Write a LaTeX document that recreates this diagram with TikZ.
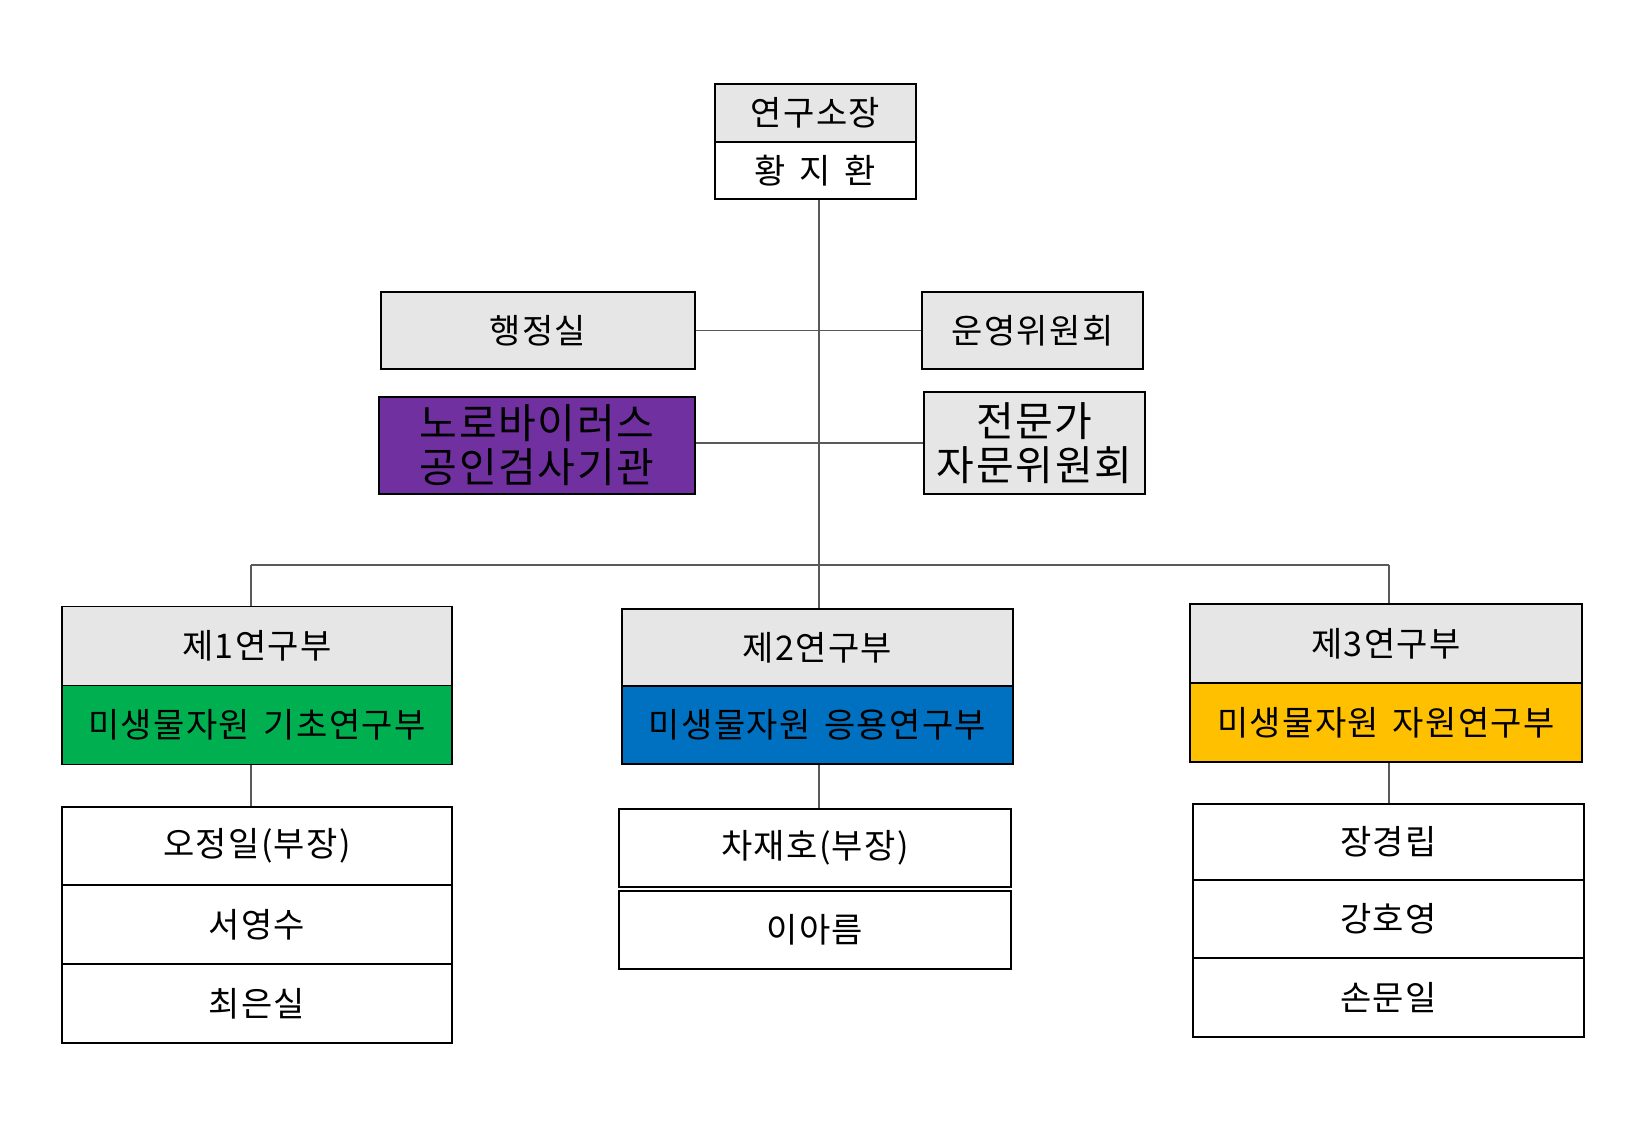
\documentclass[tikz,border=0pt]{standalone}
\usepackage{fontspec}
\setmainfont[LetterSpace=4]{Noto Sans CJK KR}
\definecolor{boxgray}{HTML}{E7E6E6}
\definecolor{cgreen}{HTML}{00B050}
\definecolor{cblue}{HTML}{0070C0}
\definecolor{cgold}{HTML}{FFC000}
\definecolor{cpurple}{HTML}{7030A0}
\definecolor{linegray}{HTML}{595959}
\newcommand{\gap}{\hspace{0.4em}}
\tikzset{
  box/.style={draw=black, line width=1.6pt, inner sep=0pt, align=center,
    font=\fontsize{34}{40}\selectfont},
  bigbox/.style={box, font=\fontsize{41}{44}\selectfont},
  conn/.style={draw=linegray, line width=1.1pt},
}
\begin{document}
\begin{tikzpicture}[x=1pt,y=-1pt]
\useasboundingbox (0,0) rectangle (1646,1125);
% top
\node[box, fill=boxgray, minimum width=201pt, minimum height=58pt] (top1) at (815.5,113) {연구소장};
\node[box, fill=white, minimum width=201pt, minimum height=57pt] (top2) at (815.5,170.5) {황\gap 지\gap 환};
% side boxes
\node[box, fill=boxgray, minimum width=314pt, minimum height=77pt] (admin) at (538,330.5) {행정실};
\node[box, fill=boxgray, minimum width=221pt, minimum height=77pt] (comm) at (1032.5,330.5) {운영위원회};
\node[bigbox, fill=cpurple, minimum width=316pt, minimum height=97pt] (noro) at (537,445.5) {노로바이러스\\공인검사기관};
\node[bigbox, fill=boxgray, minimum width=221pt, minimum height=102pt] (expert) at (1034.5,443) {전문가\\자문위원회};
% divisions
\node[box, fill=boxgray, minimum width=390pt, minimum height=79pt] (d1h) at (257,646) {제1연구부};
\node[box, fill=cgreen, minimum width=390pt, minimum height=79pt] (d1c) at (257,725) {미생물자원\gap 기초연구부};
\node[box, fill=boxgray, minimum width=391pt, minimum height=77pt] (d2h) at (817.5,647.5) {제2연구부};
\node[box, fill=cblue, minimum width=391pt, minimum height=78pt] (d2c) at (817.5,725) {미생물자원\gap 응용연구부};
\node[box, fill=boxgray, minimum width=392pt, minimum height=79pt] (d3h) at (1386,643.5) {제3연구부};
\node[box, fill=cgold, minimum width=392pt, minimum height=79pt] (d3c) at (1386,722.5) {미생물자원\gap 자원연구부};
% members
\node[box, fill=white, minimum width=390pt, minimum height=78pt] (m11) at (257,846) {오정일(부장)};
\node[box, fill=white, minimum width=390pt, minimum height=79pt] (m12) at (257,924.5) {서영수};
\node[box, fill=white, minimum width=390pt, minimum height=79pt] (m13) at (257,1003.5) {최은실};
\node[box, fill=white, minimum width=392pt, minimum height=78pt] (m21) at (815,848) {차재호(부장)};
\node[box, fill=white, minimum width=392pt, minimum height=78pt] (m22) at (815,930) {이아름};
\node[box, fill=white, minimum width=391pt, minimum height=76pt] (m31) at (1388.5,842) {장경립};
\node[box, fill=white, minimum width=391pt, minimum height=78pt] (m32) at (1388.5,919) {강호영};
\node[box, fill=white, minimum width=391pt, minimum height=79pt] (m33) at (1388.5,997.5) {손문일};
% connectors
\coordinate (spine) at (819,565);
\coordinate (b1) at (251,565);
\coordinate (b3) at (1389,565);
\draw[conn] (top2.south -| spine) -- (spine |- d2h.north);
\draw[conn] (admin.east) -- (comm.west);
\draw[conn] (noro.east |- expert.west) -- (expert.west);
\draw[conn] (b1) -- (b3);
\draw[conn] (b1) -- (b1 |- d1h.north);
\draw[conn] (b3) -- (b3 |- d3h.north);
\draw[conn] (d1c.south -| b1) -- (m11.north -| b1);
\draw[conn] (d2c.south -| spine) -- (m21.north -| spine);
\draw[conn] (d3c.south -| b3) -- (m31.north -| b3);
\end{tikzpicture}
\end{document}
